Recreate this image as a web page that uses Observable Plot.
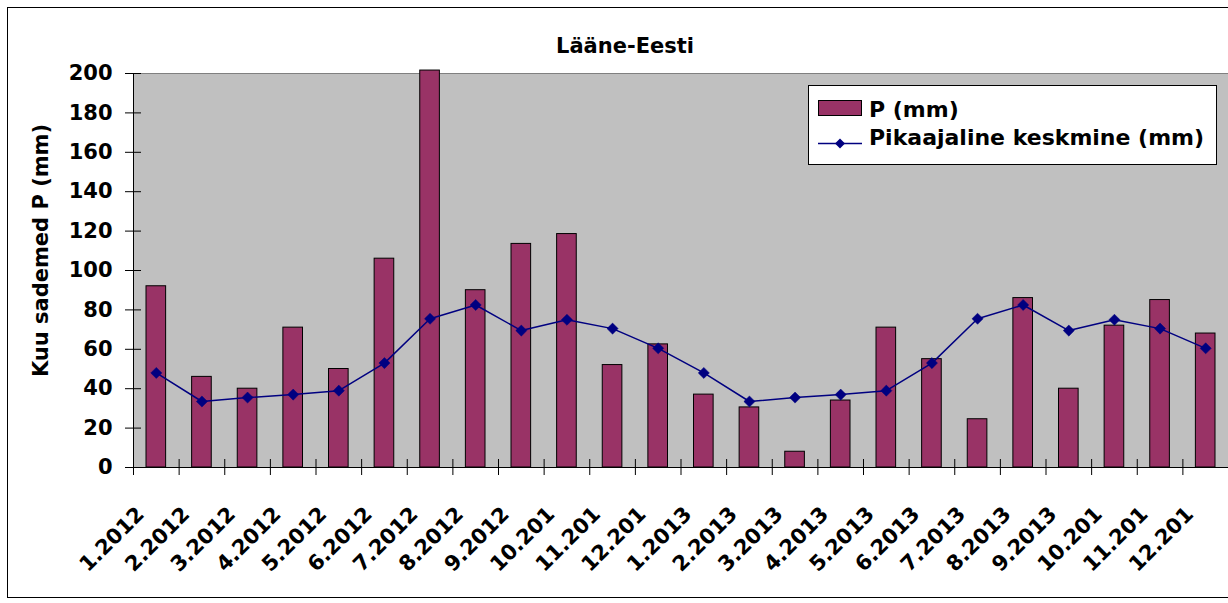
<!DOCTYPE html>
<html>
<head>
<meta charset="utf-8">
<script src="https://cdn.jsdelivr.net/npm/d3@7"></script>
<script src="https://cdn.jsdelivr.net/npm/@observablehq/plot@0.6"></script>
<style>
  body { margin: 0; background: #fff; }
  #chart { position: relative; width: 1228px; height: 603px; overflow: hidden;
           font-family: "DejaVu Sans", sans-serif; font-weight: bold; color: #000; }
  #border { position: absolute; left: 7px; top: 7px; width: 1300px; height: 591px;
            border: 1px solid #000; box-sizing: border-box; }
  #plot { position: absolute; left: 0; top: 0; }
  #legend { position: absolute; left: 808px; top: 85px; width: 409px; height: 80px;
            border: 1px solid #000; background: #fff; box-sizing: border-box; }
  .lg-text { position: absolute; left: 60px; font-size: 22px; line-height: 22px; white-space: nowrap; }
  .lg-sw { position: absolute; left: 9px; }
</style>
</head>
<body>
<div id="chart">
  <div id="border"></div>
  <div id="plot"></div>
  <div id="legend">
    <svg class="lg-sw" style="top:14px" width="45" height="17"><rect x="0.5" y="0.5" width="43" height="15" fill="#993366" stroke="#000"/></svg>
    <span class="lg-text" style="top:13px">P (mm)</span>
    <svg class="lg-sw" style="top:49px" width="45" height="17"><line x1="0" x2="44" y1="8.5" y2="8.5" stroke="#000080" stroke-width="1.5"/><path d="M22,3.5L27,8.5L22,13.5L17,8.5Z" fill="#000080"/></svg>
    <span class="lg-text" style="top:41px">Pikaajaline keskmine (mm)</span>
  </div>
</div>
<script>
// Categories (months) and their truncated tick labels as shown in the chart
const months = ["1.2012","2.2012","3.2012","4.2012","5.2012","6.2012","7.2012","8.2012","9.2012","10.2012","11.2012","12.2012",
                "1.2013","2.2013","3.2013","4.2013","5.2013","6.2013","7.2013","8.2013","9.2013","10.2013","11.2013","12.2013"];
const tickLabels = ["1.2012","2.2012","3.2012","4.2012","5.2012","6.2012","7.2012","8.2012","9.2012","10.201","11.201","12.201",
                    "1.2013","2.2013","3.2013","4.2013","5.2013","6.2013","7.2013","8.2013","9.2013","10.201","11.201","12.201"];
// Monthly precipitation P (mm)
const precip = [92, 46, 40, 71, 50, 106, 201.5, 90, 113.5, 118.5, 52, 62.5,
                37, 30.5, 8, 34, 71, 55, 24.5, 86, 40, 72, 85, 68];
// Long-term mean (mm)
const longTermMean = [48, 33.5, 35.5, 37, 39, 53, 75.5, 82.5, 69.5, 75, 70.5, 60.5,
                      48, 33.5, 35.5, 37, 39, 53, 75.5, 82.5, 69.5, 75, 70.5, 60.5];
const yTicks = [0, 20, 40, 60, 80, 100, 120, 140, 160, 180, 200];
const title = "Lääne-Eesti";
const yLabel = "Kuu sademed P (mm)";

const data = months.map((m, i) => ({month: m, p: precip[i], mean: longTermMean[i], label: tickLabels[i]}));

const W = 1228, H = 603, mL = 133, mR = 0, mT = 73, mB = 136;
const step = (W - mL - mR) / months.length;

const plot = Plot.plot({
  width: W, height: H,
  marginLeft: mL, marginRight: mR, marginTop: mT, marginBottom: mB,
  style: {fontFamily: "DejaVu Sans", fontWeight: "bold", fontSize: "21px", color: "#000", background: "transparent", overflow: "visible"},
  x: {type: "band", domain: months, padding: 0, round: false, axis: null},
  y: {domain: [0, 200], axis: null},
  marks: [
    Plot.frame({fill: "#c0c0c0", stroke: "#808080"}),
    Plot.barY(data, {x: "month", y: "p", fill: "#993366", stroke: "#000", strokeWidth: 1, insetLeft: 13, insetRight: 13}),
    Plot.line(data, {x: "month", y: "mean", stroke: "#000080", strokeWidth: 1.5}),
    Plot.dot(data, {x: "month", y: "mean", symbol: "diamond2", r: 5, fill: "#000080", stroke: "#000080", strokeWidth: 0.5}),
    Plot.ruleY([0], {stroke: "#000"}),
    Plot.ruleX([months[0]], {dx: -step / 2, stroke: "#000"}),
    Plot.axisY({ticks: yTicks, tickSize: 16, dx: 8, tickPadding: 13, label: null, stroke: "#000"}),
    Plot.axisX({tickSize: 16, dy: -8, dx: -step / 2, tickFormat: () => "", label: null, stroke: "#000"}),
    Plot.text(data, {x: "month", text: "label", frameAnchor: "bottom", rotate: -45, textAnchor: "end", lineAnchor: "bottom", dx: -11, dy: 48}),
    Plot.text([yLabel], {frameAnchor: "left", rotate: -90, dx: -92, dy: -20, textAnchor: "middle"}),
    Plot.text([title], {frameAnchor: "top", dx: -56, dy: -21, lineAnchor: "bottom"})
  ]
});
document.getElementById("plot").appendChild(plot);
</script>
</body>
</html>
